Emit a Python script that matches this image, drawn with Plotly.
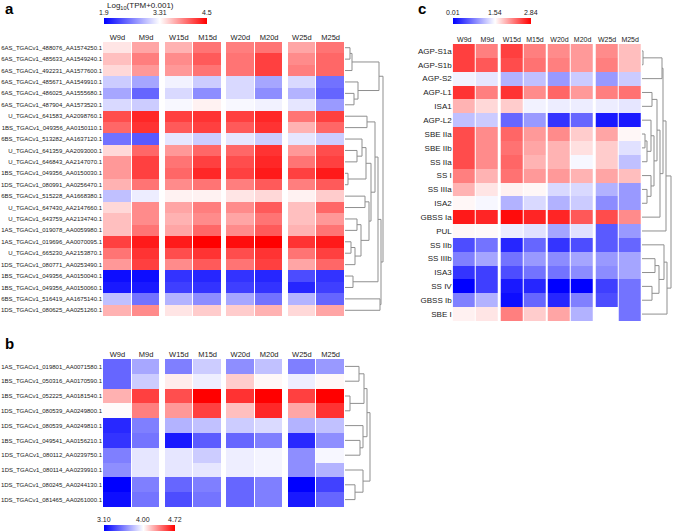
import plotly.graph_objects as go

W, H = 674, 532
FONT = "Liberation Sans, Arial, sans-serif"

samples = ["W9d", "M9d", "W15d", "M15d", "W20d", "M20d", "W25d", "M25d"]

# ---------------- panel a ----------------
genes_a = [
    "6AS_TGACv1_488076_AA1574250.1", "6AS_TGACv1_485633_AA1549240.1",
    "6AS_TGACv1_492231_AA1577600.1", "6AS_TGACv1_485671_AA1549910.1",
    "6AS_TGACv1_486025_AA1555680.1", "6AS_TGACv1_487904_AA1573520.1",
    "U_TGACv1_641583_AA2098760.1", "1BS_TGACv1_049356_AA0150110.1",
    "6BS_TGACv1_513282_AA1637120.1", "U_TGACv1_641359_AA2093000.1",
    "U_TGACv1_646843_AA2147070.1", "1BS_TGACv1_049356_AA0150030.1",
    "1DS_TGACv1_080991_AA0256470.1", "6BS_TGACv1_515228_AA1668380.1",
    "U_TGACv1_647430_AA2147660.1", "U_TGACv1_643759_AA2134740.1",
    "1AS_TGACv1_019078_AA0059980.1", "1AS_TGACv1_019696_AA0070095.1",
    "U_TGACv1_665230_AA2153870.1", "1DS_TGACv1_080771_AA0253490.1",
    "1BS_TGACv1_049356_AA0150040.1", "1BS_TGACv1_049356_AA0150060.1",
    "6BS_TGACv1_516419_AA1675140.1", "1DS_TGACv1_080625_AA0251260.1",
]
expr_a = [
    [3.43, 3.73, 3.67, 3.96, 3.91, 3.96, 3.73, 3.96],
    [3.61, 3.91, 3.85, 4.08, 3.96, 4.20, 3.85, 4.02],
    [3.49, 3.79, 3.79, 3.96, 3.96, 4.20, 3.91, 4.02],
    [3.03, 2.82, 3.24, 3.03, 3.10, 2.82, 3.10, 2.53],
    [2.82, 2.46, 3.10, 2.68, 3.10, 2.68, 2.89, 2.46],
    [3.10, 3.03, 3.27, 3.37, 3.27, 3.24, 3.17, 2.75],
    [4.14, 4.32, 4.20, 4.26, 4.20, 4.32, 3.96, 4.20],
    [4.02, 4.26, 4.08, 4.20, 4.08, 4.26, 3.67, 4.02],
    [2.53, 2.39, 3.17, 3.03, 3.17, 3.03, 3.17, 3.03],
    [3.49, 4.02, 3.79, 4.02, 4.02, 4.26, 3.79, 4.14],
    [3.79, 4.20, 3.96, 4.20, 4.14, 4.32, 3.96, 4.20],
    [3.79, 4.20, 4.02, 4.32, 4.20, 4.38, 4.20, 4.38],
    [3.67, 3.96, 3.85, 3.96, 3.91, 4.08, 3.91, 4.08],
    [2.96, 3.21, 3.37, 3.37, 3.43, 3.49, 3.37, 3.55],
    [3.49, 3.85, 3.73, 3.91, 3.85, 4.08, 3.61, 4.02],
    [3.61, 3.85, 3.67, 3.85, 3.73, 3.96, 3.61, 3.79],
    [3.61, 3.96, 3.73, 4.02, 3.85, 4.08, 3.67, 3.96],
    [4.20, 4.38, 4.38, 4.50, 4.44, 4.50, 4.26, 4.38],
    [3.96, 4.26, 4.14, 4.26, 4.14, 4.26, 3.96, 4.20],
    [3.79, 4.20, 3.85, 4.08, 3.96, 4.20, 3.73, 4.02],
    [1.97, 1.97, 2.18, 2.11, 2.18, 2.11, 2.32, 2.18],
    [2.04, 2.04, 2.25, 2.18, 2.25, 2.18, 2.11, 2.25],
    [2.96, 2.53, 2.89, 2.68, 2.82, 2.53, 2.89, 2.46],
    [3.67, 3.85, 3.43, 3.55, 3.55, 3.67, 3.49, 3.73],
]
cbar_a_vals = [1.9, 3.31, 4.5]
cbar_a_text = ["1.9", "3.31", "4.5"]
# merge tree: [left, right, merge height]
tree_a = [
    [[[0, 1, 5], 2, 7], [3, [4, 5, 9], 13], 34],
    [[[[6, 7, 22],
       [[[8, [9, 10, 12], 17], [11, 12, 3], 21],
        [[13, 14, 20], [[15, 16, 12], [[17, 18, 6], 19, 10], 16], 24], 26], 30],
      [20, 21, 8], 33],
     [22, 23, 35], 36],
    38,
]

# ---------------- panel b ----------------
genes_b = [
    "1AS_TGACv1_019801_AA0071580.1", "1BS_TGACv1_050316_AA0170590.1",
    "1BS_TGACv1_052225_AA0181540.1", "1DS_TGACv1_080539_AA0249800.1",
    "1DS_TGACv1_080539_AA0249810.1", "1BS_TGACv1_049541_AA0156210.1",
    "1DS_TGACv1_080112_AA0239750.1", "1DS_TGACv1_080114_AA0239910.1",
    "1DS_TGACv1_080245_AA0244130.1", "1DS_TGACv1_081465_AA0261000.1",
]
expr_b = [
    [3.46, 3.69, 3.55, 3.82, 3.60, 3.78, 3.55, 3.64],
    [3.46, 3.82, 4.05, 3.94, 4.14, 4.02, 3.94, 4.02],
    [4.22, 4.54, 4.50, 4.72, 4.58, 4.72, 4.54, 4.72],
    [4.01, 4.36, 4.29, 4.54, 4.18, 4.61, 4.25, 4.58],
    [3.24, 3.55, 3.73, 3.78, 3.82, 3.87, 3.73, 3.78],
    [3.28, 3.51, 3.19, 3.42, 3.46, 3.55, 3.24, 3.60],
    [3.55, 3.91, 3.91, 3.82, 3.94, 3.96, 3.60, 3.97],
    [3.60, 3.91, 3.91, 3.91, 3.94, 3.96, 3.60, 3.73],
    [3.10, 3.55, 3.46, 3.55, 3.46, 3.55, 3.10, 3.33],
    [3.15, 3.51, 3.37, 3.51, 3.46, 3.55, 3.19, 3.46],
]
cbar_b_vals = [3.10, 4.00, 4.72]
cbar_b_text = ["3.10", "4.00", "4.72"]
tree_b = [
    [[[0, 1, 14], [2, 3, 5], 19], [4, [5, 6, 15], 18], 22],
    [7, [8, 9, 10], 18],
    25,
]

# ---------------- panel c ----------------
genes_c = [
    "AGP-S1a", "AGP-S1b", "AGP-S2", "AGP-L1", "ISA1", "AGP-L2", "SBE IIa",
    "SBE IIb", "SS IIa", "SS I", "SS IIIa", "ISA2", "GBSS Ia", "PUL",
    "SS IIb", "SS IIIb", "ISA3", "SS IV", "GBSS Ib", "SBE I",
]
expr_c = [
    [2.52, 2.19, 2.52, 2.19, 2.13, 2.06, 2.13, 1.87],
    [2.52, 2.39, 2.45, 2.26, 2.19, 2.06, 2.19, 1.87],
    [1.46, 1.39, 1.08, 1.16, 0.93, 1.23, 0.93, 1.23],
    [2.58, 2.19, 2.58, 2.13, 2.32, 2.06, 2.19, 2.26],
    [1.93, 1.74, 1.80, 1.46, 1.43, 1.43, 1.43, 1.39],
    [1.16, 1.23, 0.62, 0.93, 0.32, 0.62, 0.16, 0.16],
    [2.45, 2.13, 2.32, 2.06, 2.13, 1.80, 2.00, 1.58],
    [2.45, 2.13, 2.26, 2.00, 1.93, 1.70, 1.80, 1.36],
    [2.45, 2.13, 2.32, 1.93, 1.93, 1.49, 1.80, 1.16],
    [2.19, 1.93, 2.26, 2.06, 2.06, 1.93, 2.00, 1.87],
    [1.93, 1.67, 1.61, 1.58, 1.31, 1.31, 1.08, 0.93],
    [1.58, 1.49, 1.08, 1.31, 1.08, 1.23, 0.85, 0.93],
    [2.71, 2.65, 2.78, 2.65, 2.65, 2.39, 2.45, 2.13],
    [1.58, 1.57, 1.43, 1.36, 1.00, 1.36, 0.55, 0.93],
    [0.47, 0.70, 0.24, 0.62, 0.32, 0.47, 0.55, 0.62],
    [0.78, 1.00, 0.70, 0.93, 0.85, 1.00, 0.93, 1.00],
    [0.32, 0.39, 0.47, 0.70, 0.70, 0.85, 0.85, 1.00],
    [0.01, 0.39, 0.16, 0.24, 0.01, 0.01, 0.39, 0.70],
    [0.78, 1.08, 0.09, 0.62, 0.24, 0.78, 0.47, 0.70],
    [1.61, 1.67, 2.19, 1.80, 2.00, 1.08, 1.54, 0.70],
]
cbar_c_vals = [0.01, 1.54, 2.84]
cbar_c_text = ["0.01", "1.54", "2.84"]
tree_c = [
    [[[[0, 1, 1], 2, 20],
      [[[3, 4, 10], [[5, [[6, 7, 3], 8, 5], 9], [9, [10, 11, 5], 9], 12], 15], 12, 18], 21],
     13, 24],
    [[14, [[15, 16, 13], [17, 18, 10], 17], 22], 19, 25],
    29,
]


# ---------------- helpers ----------------
def px(x):
    return x / W


def py(y):
    return 1 - y / H


def with_gaps(rows):
    out = []
    for r in rows:
        nr = []
        for i, v in enumerate(r):
            if i > 0 and i % 2 == 0:
                nr.append(None)
            nr.append(v)
        out.append(nr)
    return out


def col_edges(gap):
    e = [0.0]
    for i in range(len(samples)):
        if i > 0 and i % 2 == 0:
            e.append(e[-1] + gap)
        e.append(e[-1] + 1)
    return e


def col_centers(edges):
    c = []
    k = 0
    for i in range(len(samples)):
        if i > 0 and i % 2 == 0:
            k += 1
        c.append((edges[k] + edges[k + 1]) / 2)
        k += 1
    return c


def dendro(node, xs, ys):
    if isinstance(node, int):
        return 0.0, float(node)
    l, r, h = node
    xl, yl = dendro(l, xs, ys)
    xr, yr = dendro(r, xs, ys)
    xs += [xl, h, h, xr, None]
    ys += [yl, yl, yr, yr, None]
    return h, (yl + yr) / 2


def cscale(vals):
    w = (vals[1] - vals[0]) / (vals[2] - vals[0])
    return [[0, "rgb(0,0,255)"], [w, "rgb(255,255,255)"], [1, "rgb(255,0,0)"]]


fig = go.Figure()
annotations = []

panels = [
    dict(expr=expr_a, genes=genes_a, cv=cbar_a_vals, ct=cbar_a_text, tree=tree_a,
         xa="x", ya="y", xd="x2", gap=0.14, hx=(103, 345), hy=(42, 316), dx=(345, 385),
         cb=(104, 103, 18), rf=6, cf=7.5),
    dict(expr=expr_b, genes=genes_b, cv=cbar_b_vals, ct=cbar_b_text, tree=tree_b,
         xa="x3", ya="y3", xd="x4", gap=0.14, hx=(103, 345), hy=(359, 507), dx=(345, 372),
         cb=(104, 71, 525), rf=6, cf=7.5),
    dict(expr=expr_c, genes=genes_c, cv=cbar_c_vals, ct=cbar_c_text, tree=tree_c,
         xa="x5", ya="y5", xd="x6", gap=0.06, hx=(452.7, 641.7), hy=(44, 321), dx=(642, 673),
         cb=(453, 78, 18), rf=8, cf=7),
]

layout_axes = {}
for p in panels:
    edges = col_edges(p["gap"])
    n = len(p["genes"])
    cb_x0, cb_len, cb_top = p["cb"]
    fig.add_trace(go.Heatmap(
        z=with_gaps(p["expr"]), x=edges, y=list(range(n)),
        colorscale=cscale(p["cv"]), zmin=p["cv"][0], zmax=p["cv"][2],
        xgap=1, ygap=0, hoverongaps=False,
        xaxis=p["xa"], yaxis=p["ya"],
        colorbar=dict(orientation="h", thickness=5.5, thicknessmode="pixels",
                      len=cb_len, lenmode="pixels", x=px(cb_x0), xanchor="left",
                      y=py(cb_top), yanchor="top", xpad=0, ypad=0,
                      outlinewidth=0, showticklabels=False, ticks=""),
    ))
    xs, ys = [], []
    dendro(p["tree"], xs, ys)
    fig.add_trace(go.Scatter(x=xs, y=ys, mode="lines",
                             line=dict(color="#8f8f8f", width=1),
                             xaxis=p["xd"], yaxis=p["ya"],
                             hoverinfo="skip", showlegend=False))
    xk = "xaxis" + p["xa"][1:]
    yk = "yaxis" + p["ya"][1:]
    dk = "xaxis" + p["xd"][1:]
    layout_axes[xk] = dict(domain=[px(p["hx"][0]), px(p["hx"][1])], range=[0, edges[-1]],
                           anchor=p["ya"], side="top", tickmode="array",
                           tickvals=col_centers(edges), ticktext=samples, ticks="",
                           showgrid=False, zeroline=False, showline=False,
                           tickfont=dict(size=p["cf"], color="#222"))
    layout_axes[yk] = dict(domain=[py(p["hy"][1]), py(p["hy"][0])], range=[n - 0.5, -0.5],
                           anchor=p["xa"], tickmode="array", tickvals=list(range(n)),
                           ticktext=p["genes"], ticks="", showgrid=False, zeroline=False,
                           showline=False, tickfont=dict(size=p["rf"], color="#222"))
    layout_axes[dk] = dict(domain=[px(p["dx"][0]), px(p["dx"][1])],
                           range=[0, p["dx"][1] - p["dx"][0]], anchor=p["ya"],
                           visible=False, showgrid=False, zeroline=False)
    for v, t in zip(p["cv"], p["ct"]):
        xpos = cb_x0 + (v - p["cv"][0]) / (p["cv"][2] - p["cv"][0]) * cb_len
        annotations.append(dict(x=px(xpos), y=py(cb_top - 0.5), xref="paper", yref="paper",
                                text=t, showarrow=False, xanchor="center", yanchor="bottom",
                                font=dict(size=7, color="#222")))

annotations.append(dict(x=px(140), y=py(6), xref="paper", yref="paper",
                        text="Log<sub>10</sub>(TPM+0.001)", showarrow=False,
                        xanchor="center", yanchor="middle", font=dict(size=8, color="#222")))
for letter, lx, ly in [("a", 3, 9), ("b", 3, 343), ("c", 416, 9)]:
    annotations.append(dict(x=px(lx), y=py(ly), xref="paper", yref="paper",
                            text="<b>%s</b>" % letter, showarrow=False,
                            xanchor="left", yanchor="middle",
                            font=dict(size=15, color="#000")))

fig.update_layout(
    width=W, height=H, margin=dict(l=0, r=0, t=0, b=0, autoexpand=False),
    paper_bgcolor="white", plot_bgcolor="white",
    font=dict(family=FONT), showlegend=False, hovermode=False,
    annotations=annotations, **layout_axes,
)

fig.write_html("out.html", config={"displayModeBar": False, "staticPlot": True},
               post_script="document.body.style.margin='0px';document.body.style.overflow='hidden';")
